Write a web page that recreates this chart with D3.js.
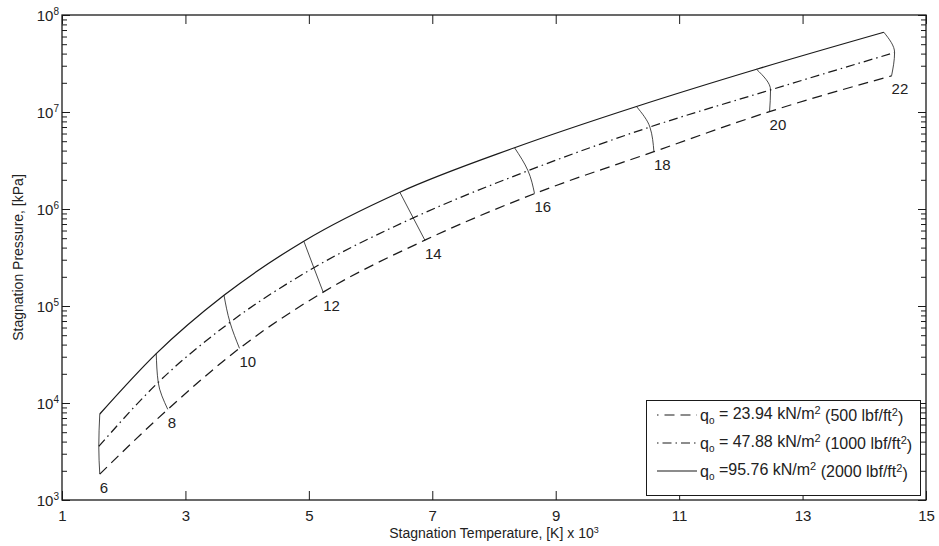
<!DOCTYPE html>
<html>
<head>
<meta charset="utf-8">
<script src="https://cdn.jsdelivr.net/npm/d3@7/dist/d3.min.js"></script>
<style>
  html, body { margin: 0; padding: 0; background: #fff; }
  svg text { font-family: "Liberation Sans", Arial, Helvetica, sans-serif; fill: #222; }
</style>
</head>
<body>
<svg id="chart" width="939" height="546"></svg>
<script>
// ---- data ----
const velocities = [6, 8, 10, 12, 14, 16, 18, 20, 22];
const tempSolid    = [1.612, 2.527, 3.625, 4.918, 6.474, 8.333, 10.309, 12.254, 14.317];
const presSolid    = [7.7e3, 3.23e4, 1.29e5, 4.66e5, 1.49e6, 4.28e6, 1.14e7, 2.76e7, 6.64e7];
const tempDashDot  = [1.596, 2.559, 3.722, 5.081, 6.691, 8.551, 10.526, 12.481, 14.491];
const presDashDot  = [3.57e3, 1.63e4, 6.78e4, 2.48e5, 8.1e5, 2.48e6, 7.0e6, 1.69e7, 4.1e7];
const tempDashed   = [1.612, 2.714, 3.876, 5.232, 6.880, 8.657, 10.591, 12.465, 14.442];
const presDashed   = [1.85e3, 8.6e3, 3.66e4, 1.39e5, 4.77e5, 1.44e6, 3.9e6, 1.01e7, 2.36e7];
const xTicks = [1, 3, 5, 7, 9, 11, 13, 15];
const yExponents = [3, 4, 5, 6, 7, 8];
const legendLabels = [
  {q: " = 23.94 kN/m", a: " (500 lbf/ft", style: "dashed"},
  {q: " = 47.88 kN/m", a: " (1000 lbf/ft", style: "dashdot"},
  {q: " =95.76 kN/m", a: " (2000 lbf/ft", style: "solid"}
];
const xTitle = "Stagnation Temperature, [K] x 10";
const yTitle = "Stagnation Pressure, [kPa]";

// ---- layout ----
const svg = d3.select("#chart");
const L = 62, R = 926, T = 15, B = 500;
const FS = 15;
const x = d3.scaleLinear().domain([1, 15]).range([L, R]);
const y = d3.scaleLog().domain([1e3, 1e8]).range([B, T]);
const ink = "#1a1a1a";
const dashes = { dashed: "10,6", dashdot: "9,4,1.5,4", solid: null };
const legendOffsets = { dashed: 8.5, dashdot: 13, solid: 0 };

// minor ticks
const minor = [];
yExponents.slice(0, -1).forEach(e => { for (let k = 2; k <= 9; k++) minor.push(k * Math.pow(10, e)); });

// axes
const gx = svg.append("g").attr("transform", `translate(0,${B})`)
  .call(d3.axisBottom(x).tickValues(xTicks).tickSizeInner(-9).tickSizeOuter(0).tickPadding(10).tickFormat(d3.format("d")));
svg.append("g").attr("transform", `translate(0,${T})`)
  .call(d3.axisTop(x).tickValues(xTicks).tickSizeInner(-9).tickSizeOuter(0).tickFormat(""));
const majors = yExponents.map(e => Math.pow(10, e));
const gy = svg.append("g").attr("transform", `translate(${L},0)`)
  .call(d3.axisLeft(y).tickValues(majors).tickSizeInner(-8).tickSizeOuter(0).tickPadding(3).tickFormat(""));
svg.append("g").attr("transform", `translate(${R},0)`)
  .call(d3.axisRight(y).tickValues(majors).tickSizeInner(-8).tickSizeOuter(0).tickFormat(""));
svg.append("g").attr("transform", `translate(${L},0)`)
  .call(d3.axisLeft(y).tickValues(minor).tickSizeInner(-5).tickSizeOuter(0).tickFormat(""));
svg.append("g").attr("transform", `translate(${R},0)`)
  .call(d3.axisRight(y).tickValues(minor).tickSizeInner(-5).tickSizeOuter(0).tickFormat(""));
svg.selectAll(".domain").remove();
svg.selectAll(".tick line").attr("stroke", ink).attr("stroke-width", 1);
gx.selectAll(".tick text").attr("font-size", FS).attr("fill", "#222");

// y tick labels as 10^n
gy.selectAll(".tick text").each(function(d) {
  const t = d3.select(this).attr("font-size", FS).attr("fill", "#222").attr("dy", "0.35em");
  t.append("tspan").text("10");
  t.append("tspan").attr("dy", "-0.55em").attr("font-size", 10).text(Math.round(Math.log10(d)));
});

// frame
svg.append("rect").attr("x", L).attr("y", T).attr("width", R - L).attr("height", B - T)
  .attr("fill", "none").attr("stroke", ink).attr("stroke-width", 1.3);

// curves
const series = [
  {t: tempDashed, p: presDashed, style: "dashed"},
  {t: tempDashDot, p: presDashDot, style: "dashdot"},
  {t: tempSolid, p: presSolid, style: "solid"}
];
const line = d3.line().x(d => x(d[0])).y(d => y(d[1])).curve(d3.curveMonotoneX);
series.forEach(s => {
  svg.append("path").datum(s.t.map((v, i) => [v, s.p[i]]))
    .attr("d", line).attr("fill", "none").attr("stroke", ink).attr("stroke-width", 1.25)
    .attr("stroke-dasharray", dashes[s.style]);
});

// constant-velocity cross lines
const cross = d3.line().x(d => x(d[0])).y(d => y(d[1])).curve(d3.curveMonotoneY);
velocities.forEach((v, i) => {
  const pts = [[tempSolid[i], presSolid[i]], [tempDashDot[i], presDashDot[i]], [tempDashed[i], presDashed[i]]];
  svg.append("path").datum(pts).attr("d", cross).attr("fill", "none")
    .attr("stroke", ink).attr("stroke-width", 0.8);
  svg.append("text").attr("x", x(tempDashed[i])).attr("y", y(presDashed[i]) + 18.5)
    .attr("font-size", FS).text(v);
});

// axis titles
const xt = svg.append("text").attr("x", (L + R) / 2).attr("y", 537.5).attr("text-anchor", "middle").attr("font-size", 14);
xt.append("tspan").text(xTitle);
xt.append("tspan").attr("dy", "-0.5em").attr("font-size", 9).text("3");
svg.append("text").attr("transform", `translate(23,${(T + B) / 2}) rotate(-90)`)
  .attr("text-anchor", "middle").attr("font-size", 14).text(yTitle);

// legend
const lg = svg.append("g");
lg.append("rect").attr("x", 646.5).attr("y", 400.5).attr("width", 274).attr("height", 95)
  .attr("fill", "#fff").attr("stroke", ink).attr("stroke-width", 1);
legendLabels.forEach((d, i) => {
  const yy = 415 + i * 28;
  lg.append("line").attr("x1", 657).attr("x2", 697).attr("y1", yy).attr("y2", yy)
    .attr("stroke", ink).attr("stroke-width", 1.2).attr("stroke-dasharray", dashes[d.style])
    .attr("stroke-dashoffset", legendOffsets[d.style]);
  const t = lg.append("text").attr("x", 700).attr("y", yy + 5.5).attr("font-size", 16);
  t.append("tspan").text("q");
  t.append("tspan").attr("font-size", 10).attr("dy", "0.3em").text("o");
  t.append("tspan").attr("dy", "-0.3em").text(d.q);
  t.append("tspan").attr("font-size", 11).attr("dy", "-0.45em").text("2");
  t.append("tspan").attr("dy", "0.45em").text(d.a);
  t.append("tspan").attr("font-size", 11).attr("dy", "-0.45em").text("2");
  t.append("tspan").attr("dy", "0.45em").text(")");
});
</script>
</body>
</html>
